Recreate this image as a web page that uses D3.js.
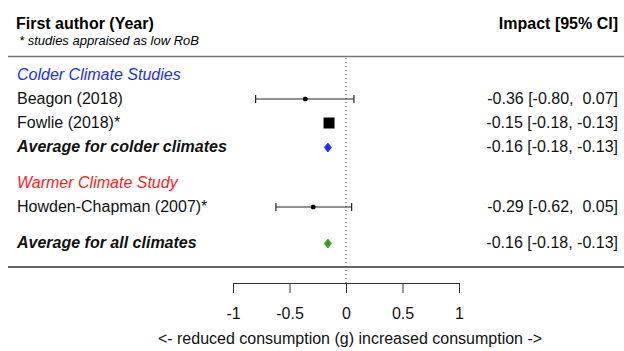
<!DOCTYPE html>
<html>
<head>
<meta charset="utf-8">
<script src="https://cdn.jsdelivr.net/npm/d3@7"></script>
<style>
  html, body { margin: 0; padding: 0; background: #fff; }
  svg { display: block; font-family: 'Liberation Sans', Arial, Helvetica, sans-serif; }
  text { white-space: pre; }
</style>
</head>
<body>
<svg id="chart" width="624" height="351"></svg>
<script>
// rows of the forest plot, top to bottom
const labels = ['Colder Climate Studies', 'Beagon (2018)', 'Fowlie (2018)*', 'Average for colder climates',
  'Warmer Climate Study', 'Howden-Chapman (2007)*', 'Average for all climates'];
const rowKinds = ['group', 'study', 'study', 'average', 'group', 'study', 'average'];
const rowPos = [0, 1, 2, 3, 4.5, 5.5, 7];
const estimates = [null, -0.36, -0.15, -0.16, null, -0.29, -0.16];
const lower = [null, -0.80, -0.18, -0.18, null, -0.62, -0.18];
const upper = [null, 0.07, -0.13, -0.13, null, 0.05, -0.13];
const ciText = ['', '-0.36 [-0.80,  0.07]', '-0.15 [-0.18, -0.13]', '-0.16 [-0.18, -0.13]',
  '', '-0.29 [-0.62,  0.05]', '-0.16 [-0.18, -0.13]'];
const groupColors = ['#1a2cff', null, null, '#1a2cff', '#ff1a1a', null, '#3d9a1c'];
const xTicks = [-1, -0.5, 0, 0.5, 1];

const W = 624, H = 351;
const svg = d3.select('#chart');

const x = d3.scaleLinear().domain([-1, 1]).range([233, 459]);
const y = d3.scaleLinear().domain([0, 1]).range([74, 98]);

// headers
svg.append('text').attr('x', 16).attr('y', 28.5)
  .style('font-size', '16px').style('font-weight', 'bold')
  .text('First author (Year)');
svg.append('text').attr('x', 19).attr('y', 44.5)
  .style('font-size', '13px').style('font-style', 'italic')
  .text('* studies appraised as low RoB');
svg.append('text').attr('x', 618).attr('y', 28.5)
  .attr('text-anchor', 'end')
  .style('font-size', '16px').style('font-weight', 'bold')
  .text('Impact [95% CI]');

// horizontal rules
svg.append('line').attr('x1', 8).attr('x2', W).attr('y1', 56.5).attr('y2', 56.5)
  .attr('stroke', '#777').attr('stroke-width', 1.6);
svg.append('line').attr('x1', 8).attr('x2', W).attr('y1', 267).attr('y2', 267)
  .attr('stroke', '#333').attr('stroke-width', 1.3);

// reference line at zero
svg.append('line').attr('x1', x(0)).attr('x2', x(0)).attr('y1', 58).attr('y2', 283)
  .attr('stroke', '#444').attr('stroke-width', 1).attr('stroke-dasharray', '1,3');

const rows = labels.map((l, i) => ({
  label: l, kind: rowKinds[i], pos: rowPos[i], est: estimates[i],
  lo: lower[i], hi: upper[i], ci: ciText[i], color: groupColors[i]
}));

// left labels
svg.selectAll('.lbl').data(rows).enter().append('text')
  .attr('class', 'lbl')
  .attr('x', 17)
  .attr('y', (d) => y(d.pos))
  .attr('dy', '0.35em')
  .style('font-size', '16px')
  .style('font-style', (d) => (d.kind === 'study' ? 'normal' : 'italic'))
  .style('font-weight', (d) => (d.kind === 'average' ? 'bold' : 'normal'))
  .attr('fill', (d) => (d.kind === 'group' ? d.color : '#111'))
  .text((d) => d.label);

// right CI text
svg.selectAll('.ci').data(rows.filter((d) => d.ci)).enter().append('text')
  .attr('class', 'ci')
  .attr('x', 618)
  .attr('y', (d) => y(d.pos))
  .attr('dy', '0.35em')
  .attr('text-anchor', 'end')
  .style('font-size', '16px')
  .attr('fill', '#111')
  .text((d) => d.ci);

// study whiskers (only where CI is wider than the marker)
const studies = rows.filter((d) => d.kind === 'study');
const wide = studies.filter((d) => x(d.hi) - x(d.lo) > 14);
const g = svg.append('g').attr('stroke', '#222').attr('stroke-width', 1.2);
wide.forEach((d) => {
  const yy = y(d.pos) + 1;
  g.append('line').attr('x1', x(d.lo)).attr('x2', x(d.hi)).attr('y1', yy).attr('y2', yy);
  g.append('line').attr('x1', x(d.lo)).attr('x2', x(d.lo)).attr('y1', yy - 4).attr('y2', yy + 4);
  g.append('line').attr('x1', x(d.hi)).attr('x2', x(d.hi)).attr('y1', yy - 4).attr('y2', yy + 4);
});

// study point estimates: small dot for wide CI, big square for precise study
studies.forEach((d) => {
  const yy = y(d.pos) + 1;
  const s = x(d.hi) - x(d.lo) > 14 ? 4.5 : 11;
  svg.append('rect')
    .attr('x', x(d.est) - s / 2).attr('y', yy - s / 2)
    .attr('width', s).attr('height', s)
    .attr('rx', s < 5 ? 1.5 : 0)
    .attr('fill', '#000');
});

// pooled diamonds
svg.selectAll('.diamond').data(rows.filter((d) => d.kind === 'average')).enter()
  .append('path')
  .attr('class', 'diamond')
  .attr('d', (d) => {
    const yy = y(d.pos) + 1.5;
    const l = Math.min(x(d.lo), x(d.est) - 3.5), r = Math.max(x(d.hi), x(d.est) + 3.5);
    return `M${l},${yy}L${x(d.est)},${yy - 4.5}L${r},${yy}L${x(d.est)},${yy + 4.5}Z`;
  })
  .attr('fill', (d) => d.color)
  .attr('stroke', (d) => d.color)
  .attr('stroke-width', 0.8)
  .attr('stroke-linejoin', 'round');

// x axis
const axis = d3.axisBottom(x).tickValues(xTicks).tickSize(10).tickPadding(15)
  .tickFormat((d) => String(d));
const ax = svg.append('g').attr('transform', 'translate(0,283)').call(axis);
ax.select('.domain').attr('stroke', '#333');
ax.selectAll('.tick line').attr('stroke', '#333');
ax.selectAll('.tick text').style('font-size', '16px').attr('fill', '#111')
  .style('font-family', "'Liberation Sans', Arial, sans-serif");

svg.append('text').attr('x', 350).attr('y', 344)
  .attr('text-anchor', 'middle')
  .style('font-size', '16px').attr('fill', '#111')
  .text('<- reduced consumption (g) increased consumption ->');
</script>
</body>
</html>
